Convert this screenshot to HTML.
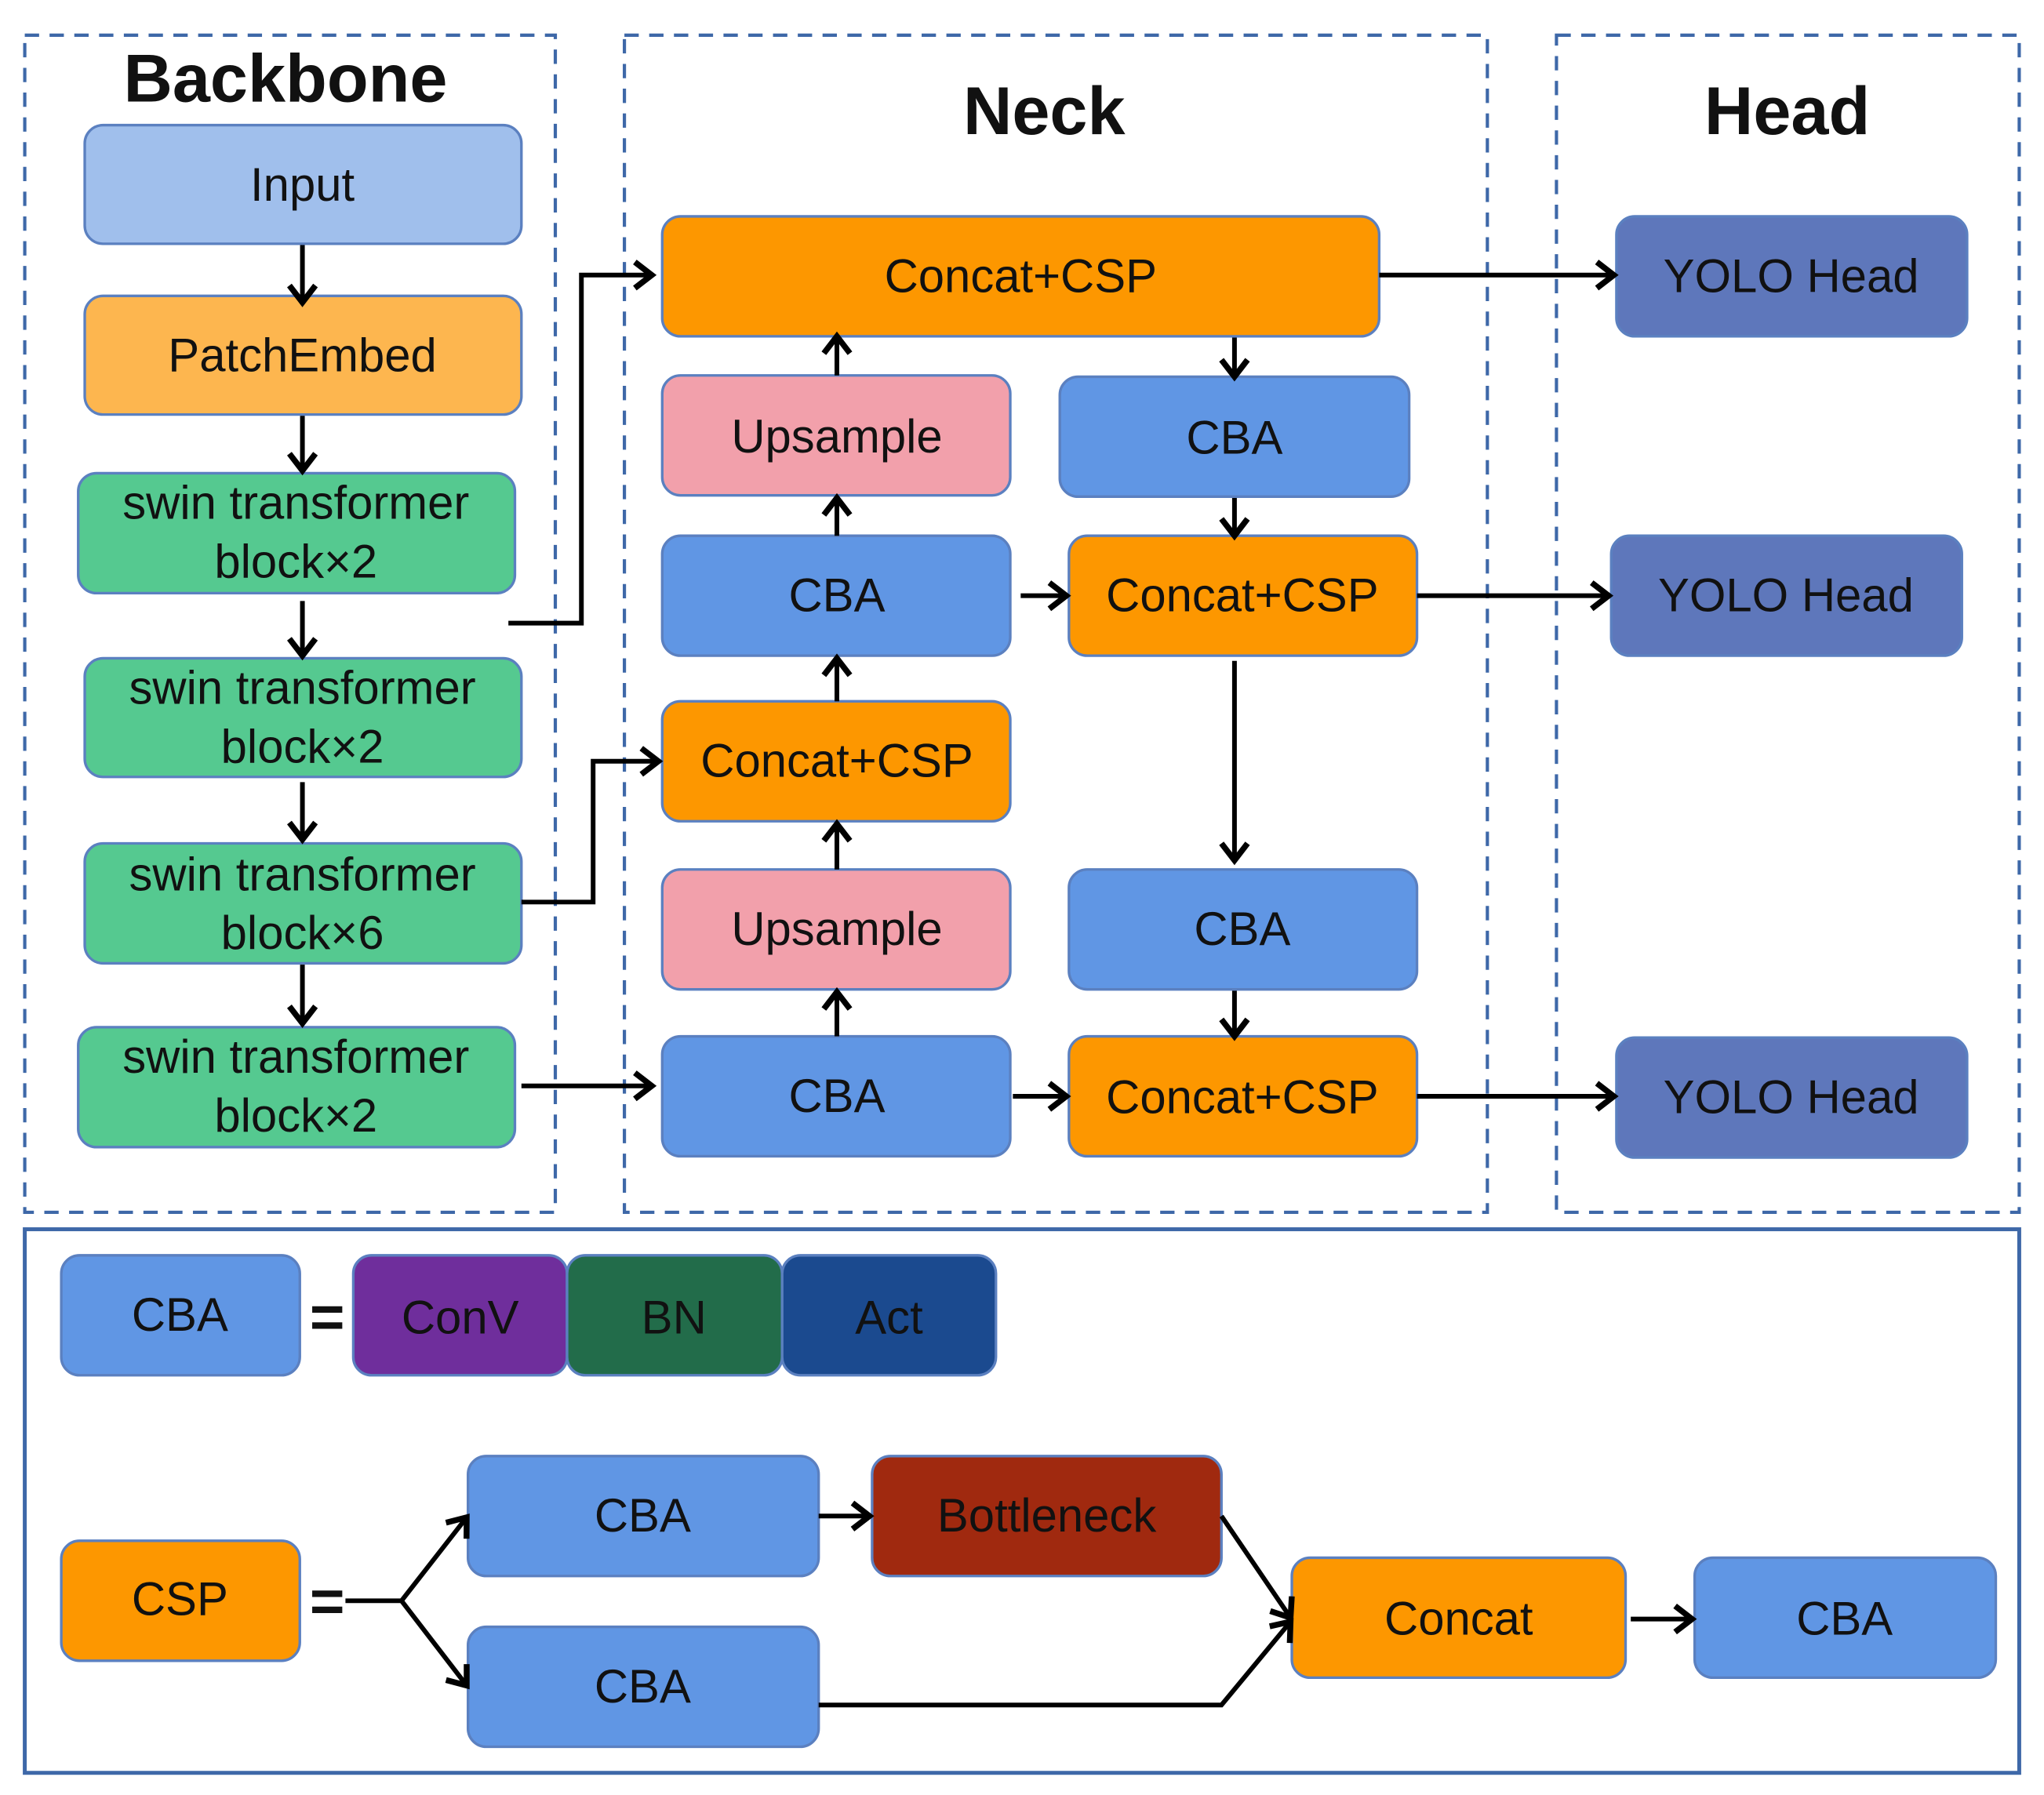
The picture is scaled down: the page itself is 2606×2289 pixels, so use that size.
<!DOCTYPE html>
<html><head><meta charset="utf-8"><style>
html,body{margin:0;padding:0;background:#fff;}
svg{display:block;}
text{font-family:"Liberation Sans",Arial,sans-serif;fill:#111;}
</style></head><body>
<svg width="2606" height="2289" viewBox="0 0 1568 1377" preserveAspectRatio="none" xmlns="http://www.w3.org/2000/svg">
<defs>
<marker id="b" markerWidth="24" markerHeight="24" refX="19" refY="12" orient="auto" markerUnits="userSpaceOnUse" viewBox="0 0 24 24">
<polyline points="6,2 19,12 6,22" fill="none" stroke="#000" stroke-width="4.5"/>
</marker>
</defs>
<rect width="1568" height="1377" fill="#fff"/>
<g fill="none" stroke="#3e68a8" stroke-width="2.5" stroke-dasharray="11,8">
<rect x="19" y="27" width="407" height="903"/>
<rect x="479" y="27" width="662" height="903"/>
<rect x="1194" y="27" width="355" height="903"/>
</g>
<rect x="19" y="943" width="1530" height="417" fill="none" stroke="#3e68a8" stroke-width="3"/>
<g font-weight="bold" font-size="52" text-anchor="middle">
<text x="219" y="78">Backbone</text>
<text x="801" y="103">Neck</text>
<text x="1371" y="103">Head</text>
</g>
<g stroke="#5b80c0" stroke-width="2">
<rect x="65" y="96" width="335" height="91" rx="14" fill="#a0bfec"/>
<rect x="65" y="227" width="335" height="91" rx="14" fill="#fdb64f"/>
<rect x="60" y="363" width="335" height="92" rx="14" fill="#55c990"/>
<rect x="65" y="505" width="335" height="91" rx="14" fill="#55c990"/>
<rect x="65" y="647" width="335" height="92" rx="14" fill="#55c990"/>
<rect x="60" y="788" width="335" height="92" rx="14" fill="#55c990"/>

<rect x="508" y="166" width="550" height="92" rx="14" fill="#fd9700"/>
<rect x="508" y="288" width="267" height="92" rx="14" fill="#f2a0ab"/>
<rect x="813" y="289" width="268" height="92" rx="14" fill="#6096e4"/>
<rect x="508" y="411" width="267" height="92" rx="14" fill="#6096e4"/>
<rect x="820" y="411" width="267" height="92" rx="14" fill="#fd9700"/>
<rect x="508" y="538" width="267" height="92" rx="14" fill="#fd9700"/>
<rect x="508" y="667" width="267" height="92" rx="14" fill="#f2a0ab"/>
<rect x="820" y="667" width="267" height="92" rx="14" fill="#6096e4"/>
<rect x="508" y="795" width="267" height="92" rx="14" fill="#6096e4"/>
<rect x="820" y="795" width="267" height="92" rx="14" fill="#fd9700"/>

<rect x="1240" y="166" width="269" height="92" rx="14" fill="#5e77bb"/>
<rect x="1236" y="411" width="269" height="92" rx="14" fill="#5e77bb"/>
<rect x="1240" y="796" width="269" height="92" rx="14" fill="#5e77bb"/>

<rect x="47" y="963" width="183" height="92" rx="14" fill="#6096e4"/>
<rect x="271" y="963" width="164" height="92" rx="14" fill="#6f2e9c"/>
<rect x="435" y="963" width="165" height="92" rx="14" fill="#226c4a"/>
<rect x="600" y="963" width="164" height="92" rx="14" fill="#1b4a8f"/>

<rect x="47" y="1182" width="183" height="92" rx="14" fill="#fd9700"/>
<rect x="359" y="1117" width="269" height="92" rx="14" fill="#6096e4"/>
<rect x="359" y="1248" width="269" height="92" rx="14" fill="#6096e4"/>
<rect x="669" y="1117" width="268" height="92" rx="14" fill="#a0290f"/>
<rect x="991" y="1195" width="256" height="92" rx="14" fill="#fd9700"/>
<rect x="1300" y="1195" width="231" height="92" rx="14" fill="#6096e4"/>
</g>
<g font-size="36" text-anchor="middle">
<text x="232" y="154">Input</text>
<text x="232" y="285">PatchEmbed</text>
<text x="227" y="398">swin transformer</text><text x="227" y="443">block×2</text>
<text x="232" y="540">swin transformer</text><text x="232" y="585">block×2</text>
<text x="232" y="683">swin transformer</text><text x="232" y="728">block×6</text>
<text x="227" y="823">swin transformer</text><text x="227" y="868">block×2</text>

<text x="783" y="224">Concat+CSP</text>
<text x="642" y="347">Upsample</text>
<text x="947" y="348">CBA</text>
<text x="642" y="469">CBA</text>
<text x="953" y="469">Concat+CSP</text>
<text x="642" y="596">Concat+CSP</text>
<text x="642" y="725">Upsample</text>
<text x="953" y="725">CBA</text>
<text x="642" y="853">CBA</text>
<text x="953" y="854">Concat+CSP</text>

<text x="1374" y="224">YOLO Head</text>
<text x="1370" y="469">YOLO Head</text>
<text x="1374" y="854">YOLO Head</text>

<text x="138" y="1021">CBA</text>
<text x="353" y="1023">ConV</text>
<text x="517" y="1023">BN</text>
<text x="682" y="1023">Act</text>
<text x="138" y="1239">CSP</text>
<text x="493" y="1175">CBA</text>
<text x="493" y="1306">CBA</text>
<text x="803" y="1175">Bottleneck</text>
<text x="1119" y="1254">Concat</text>
<text x="1415" y="1254">CBA</text>
</g>
<g font-size="46" font-weight="bold" text-anchor="middle">
<text x="251" y="1026">=</text>
<text x="251" y="1244">=</text>
</g>
<g fill="none" stroke="#000" stroke-width="3.6" marker-end="url(#b)">
<line x1="232" y1="188" x2="232" y2="232"/>
<line x1="232" y1="319" x2="232" y2="361"/>
<line x1="232" y1="461" x2="232" y2="503"/>
<line x1="232" y1="600" x2="232" y2="644"/>
<line x1="232" y1="740" x2="232" y2="785"/>
<polyline points="390,478 446,478 446,211 500,211"/>
<polyline points="400,692 455,692 455,584 505,584"/>
<line x1="400" y1="833" x2="500" y2="833"/>

<line x1="642" y1="288" x2="642" y2="258"/>
<line x1="642" y1="411" x2="642" y2="382"/>
<line x1="642" y1="538" x2="642" y2="505"/>
<line x1="642" y1="667" x2="642" y2="632"/>
<line x1="642" y1="795" x2="642" y2="761"/>

<line x1="947" y1="259" x2="947" y2="289"/>
<line x1="947" y1="382" x2="947" y2="411"/>
<line x1="947" y1="507" x2="947" y2="660"/>
<line x1="947" y1="760" x2="947" y2="795"/>

<line x1="783" y1="457" x2="818" y2="457"/>
<line x1="777" y1="841" x2="818" y2="841"/>
<line x1="1058" y1="211" x2="1238" y2="211"/>
<line x1="1087" y1="457" x2="1234" y2="457"/>
<line x1="1087" y1="841" x2="1238" y2="841"/>

<polyline points="308,1228 358,1164"/>
<polyline points="308,1228 358,1293"/>
<line x1="628" y1="1163" x2="667" y2="1163"/>
<polyline points="937,1163 990,1241"/>
<polyline points="628,1308 937,1308 990,1244"/>
<line x1="1251" y1="1242" x2="1298" y2="1242"/>
</g>
<line x1="265" y1="1228" x2="309" y2="1228" stroke="#000" stroke-width="3.6"/>
</svg>
</body></html>
